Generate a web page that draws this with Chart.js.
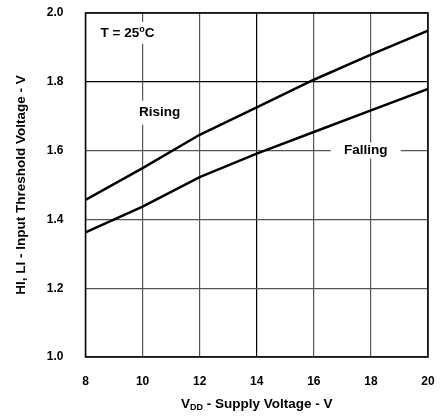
<!DOCTYPE html>
<html>
<head>
<meta charset="utf-8">
<script src="https://cdn.jsdelivr.net/npm/chart.js@4/dist/chart.umd.min.js"></script>
<style>
  html, body { margin: 0; padding: 0; background: #fff; }
  #wrap { width: 440px; height: 418px; }
</style>
</head>
<body>
<div id="wrap"><canvas id="chart" width="440" height="418"></canvas></div>
<script>
// supply voltage (V) and threshold readings (V)
const supplyVoltage = [8, 10, 12, 14, 16, 18, 20];
const rising = [1.457, 1.549, 1.646, 1.726, 1.806, 1.879, 1.949];
const falling = [1.362, 1.437, 1.523, 1.591, 1.654, 1.717, 1.779];

const xTicks = [8, 10, 12, 14, 16, 18, 20];
const yTicks = [1.0, 1.2, 1.4, 1.6, 1.8, 2.0];

const FONT = '"Liberation Sans", Arial, sans-serif';
const BIG = 'bold 13.5px ' + FONT;
const SMALL = 'bold 9px ' + FONT;

const toPoints = (xs, ys) => xs.map((x, i) => ({ x: x, y: ys[i] }));

// a few grid lines in the scan look darker than others
const gridColor = (ctx, dark) => {
  const v = ctx.tick ? ctx.tick.value : null;
  return dark.indexOf(v) >= 0 ? '#000' : '#555';
};

// tick padding should not push the plot area in
const noScalePad = (s) => {
  s.paddingTop = 0;
  s.paddingBottom = 0;
  s.paddingLeft = 0;
  s.paddingRight = 0;
};

const labelsPlugin = {
  id: 'labels',
  afterDraw(chart) {
    const c = chart.ctx;
    const xs = chart.scales.x;
    const ys = chart.scales.y;
    const area = chart.chartArea;

    c.save();
    c.textBaseline = 'middle';
    c.fillStyle = '#000';

    // boxed in-plot labels (white behind them hides the grid)
    const box = (txt, xv, yv, w, h) => {
      const px = xs.getPixelForValue(xv);
      const py = ys.getPixelForValue(yv);
      c.fillStyle = '#fff';
      c.fillRect(px - w / 2, py - h / 2, w, h);
      c.fillStyle = '#000';
      if (txt) {
        c.font = BIG;
        c.textAlign = 'center';
        c.fillText(txt, px, py);
      }
      return [px, py];
    };

    box('Rising', 10.6, 1.71, 50, 24);
    box('Falling', 17.82, 1.6, 70, 16);

    // T = 25°C with superscript o
    const t = box('', 9.47, 1.942, 62, 22);
    const a = 'T = 25', b = 'o', d = 'C';
    c.textAlign = 'left';
    c.font = BIG;
    const wa = c.measureText(a).width;
    const wd = c.measureText(d).width;
    c.font = SMALL;
    const wb = c.measureText(b).width;
    let x0 = t[0] - (wa + wb + wd) / 2;
    c.font = BIG;
    c.fillText(a, x0, t[1]);
    c.fillText(d, x0 + wa + wb, t[1]);
    c.font = SMALL;
    c.fillText(b, x0 + wa, t[1] - 3);

    // border on top of everything
    c.strokeStyle = '#000';
    c.lineWidth = 1.5;
    c.strokeRect(area.left, area.top, area.right - area.left, area.bottom - area.top);

    // x axis title with subscript
    const cx = (area.left + area.right) / 2;
    const ty = 404;
    const p1 = 'V', p2 = 'DD', p3 = ' - Supply Voltage - V';
    c.font = BIG;
    const w1 = c.measureText(p1).width;
    const w3 = c.measureText(p3).width;
    c.font = SMALL;
    const w2 = c.measureText(p2).width;
    let sx = cx - (w1 + w2 + w3) / 2;
    c.font = BIG;
    c.fillText(p1, sx, ty);
    c.fillText(p3, sx + w1 + w2, ty);
    c.font = SMALL;
    c.fillText(p2, sx + w1, ty + 4);

    // y axis title
    c.translate(21, (area.top + area.bottom) / 2);
    c.rotate(-Math.PI / 2);
    c.textAlign = 'center';
    c.font = BIG;
    c.fillText('HI, LI - Input Threshold Voltage - V', 0, 0);
    c.restore();
  }
};

new Chart(document.getElementById('chart'), {
  type: 'scatter',
  data: {
    datasets: [
      {
        label: 'Rising',
        data: toPoints(supplyVoltage, rising),
        showLine: true,
        borderColor: '#000',
        borderWidth: 2.5,
        pointRadius: 0,
        tension: 0
      },
      {
        label: 'Falling',
        data: toPoints(supplyVoltage, falling),
        showLine: true,
        borderColor: '#000',
        borderWidth: 2.5,
        pointRadius: 0,
        tension: 0
      }
    ]
  },
  options: {
    responsive: false,
    animation: false,
    layout: { padding: { top: 13, right: 12, left: 0, bottom: 0 } },
    plugins: {
      legend: { display: false },
      tooltip: { enabled: false }
    },
    scales: {
      x: {
        type: 'linear',
        min: 8,
        max: 20,
        afterBuildTicks: (s) => { s.ticks = xTicks.map(v => ({ value: v })); },
        afterFit: (s) => { s.height = 61; noScalePad(s); },
        grid: {
          color: (ctx) => gridColor(ctx, [14]),
          lineWidth: 1.2,
          drawTicks: false
        },
        border: { display: false },
        ticks: {
          color: '#000',
          padding: 17,
          font: { family: FONT, size: 12, weight: 'bold' },
          callback: (v) => String(v)
        }
      },
      y: {
        type: 'linear',
        min: 1.0,
        max: 2.0,
        afterBuildTicks: (s) => { s.ticks = yTicks.map(v => ({ value: v })); },
        afterFit: (s) => { s.width = 85.5; noScalePad(s); },
        grid: {
          color: (ctx) => gridColor(ctx, [1.8]),
          lineWidth: 1.2,
          drawTicks: false
        },
        border: { display: false },
        ticks: {
          color: '#000',
          padding: 22,
          font: { family: FONT, size: 12, weight: 'bold' },
          callback: (v) => v.toFixed(1)
        }
      }
    }
  },
  plugins: [labelsPlugin]
});
</script>
</body>
</html>
